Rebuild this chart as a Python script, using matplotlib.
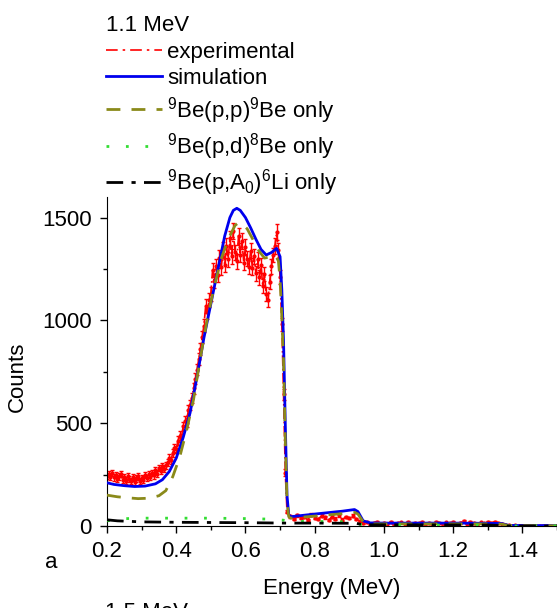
import numpy as np
import matplotlib
matplotlib.use("Agg")
import matplotlib.pyplot as plt
from matplotlib.lines import Line2D
from matplotlib.ticker import MultipleLocator

plt.rcParams['font.family'] = ['Liberation Sans', 'DejaVu Sans']
plt.rcParams['mathtext.fontset'] = 'custom'
plt.rcParams['mathtext.rm'] = 'Liberation Sans'
plt.rcParams['mathtext.it'] = 'Liberation Sans'

# experimental spectrum (counts), channel grid 5 keV up to 0.72 MeV, 10 keV beyond
exp_energy_lo = np.round(np.arange(0.200, 0.7201, 0.005), 3)
exp_counts_lo = [
    244, 252, 238, 258, 236, 247, 229, 241, 252, 226,
    238, 221, 244, 230, 218, 236, 212, 231, 241, 219,
    233, 226, 247, 232, 251, 239, 258, 246, 270, 255,
    282, 268, 290, 279, 296, 310, 332, 320, 356, 380,
    372, 415, 440, 428, 485, 510, 502, 565, 590, 622,
    670, 715, 760, 812, 860, 920, 975, 1070, 1040, 1098,
    1130, 1245, 1190, 1263, 1222, 1305, 1258, 1345, 1269, 1362,
    1297, 1399, 1312, 1436, 1331, 1288, 1412, 1320, 1386, 1281,
    1358, 1300, 1261, 1339, 1255, 1312, 1228, 1296, 1209, 1268,
    1166, 1224, 1127, 1099, 1188, 1262, 1318, 1362, 1430, 1340,
    1210, 980, 640, 260, 70,
]
exp_energy_hi = np.round(np.arange(0.73, 1.5001, 0.01), 2)
exp_counts_hi = [
    48, 35, 52, 38, 45, 30, 55, 40, 33, 50,
    42, 28, 46, 36, 52, 31, 44, 38, 49, 35,
    22, 14, 18, 10, 15, 21, 9, 16, 12, 19,
    8, 14, 17, 11, 20, 9, 15, 13, 18, 10,
    16, 12, 21, 14, 9, 17, 13, 20, 11, 16,
    22, 12, 18, 14, 10, 17, 13, 19, 15, 21,
    14, 11, 6, 3, 2, 3, 1, 2, 1, 2,
    1, 2, 1, 2, 1, 2, 1, 2,
]

# full simulation
sim_energy = [0.20, 0.22, 0.25, 0.28, 0.31, 0.34, 0.36, 0.38, 0.40, 0.42,
              0.44, 0.46, 0.48, 0.50, 0.52, 0.54, 0.555, 0.565, 0.575, 0.585,
              0.60, 0.615, 0.63, 0.645, 0.66, 0.675, 0.69, 0.70, 0.705, 0.71,
              0.715, 0.72, 0.725, 0.73, 0.80, 0.88, 0.915, 0.925, 0.94, 0.96,
              1.00, 1.10, 1.20, 1.30, 1.34, 1.36, 1.40, 1.50]
sim_counts = [210, 202, 196, 192, 194, 205, 225, 265, 330, 430,
              550, 725, 915, 1080, 1245, 1410, 1500, 1535, 1545, 1535,
              1500, 1450, 1395, 1345, 1318, 1330, 1350, 1310, 1150, 900,
              500, 150, 55, 45, 58, 72, 80, 70, 25, 15,
              14, 14, 14, 13, 12, 3, 2, 2]

# 9Be(p,p)9Be only
pp_energy = [0.20, 0.23, 0.26, 0.29, 0.32, 0.35, 0.37, 0.39, 0.41, 0.43,
             0.45, 0.47, 0.49, 0.51, 0.53, 0.55, 0.57, 0.58, 0.59, 0.605,
             0.62, 0.64, 0.655, 0.67, 0.685, 0.695, 0.70, 0.705, 0.71, 0.715,
             0.72, 0.725, 0.73, 0.80, 0.88, 0.915, 0.925, 0.94, 0.96, 1.10,
             1.30, 1.34, 1.36, 1.50]
pp_counts = [150, 142, 137, 133, 135, 147, 172, 240, 335, 465,
             615, 820, 1010, 1165, 1300, 1395, 1462, 1475, 1470, 1445,
             1398, 1335, 1303, 1308, 1318, 1290, 1200, 1020, 800, 420,
             120, 45, 38, 48, 60, 66, 58, 20, 10, 10,
             10, 9, 2, 1]

# 9Be(p,d)8Be only
pd_energy = [0.20, 0.24, 0.30, 0.40, 0.50, 0.60, 0.68, 0.71, 0.73, 0.80,
             0.90, 0.93, 1.00, 1.30, 1.36, 1.50]
pd_counts = [25, 35, 38, 38, 38, 36, 33, 28, 22, 22,
             20, 8, 5, 4, 0, 0]

# 9Be(p,a0)6Li only
pa_energy = [0.20, 0.23, 0.30, 0.40, 0.60, 0.72, 0.80, 0.92, 0.94, 1.30,
             1.36, 1.50]
pa_counts = [30, 25, 20, 18, 16, 14, 14, 13, 6, 5,
             0, 0]

exp_energy = np.concatenate([exp_energy_lo, exp_energy_hi])
exp_counts = np.array(exp_counts_lo + exp_counts_hi, dtype=float)
exp_err = np.sqrt(exp_counts)

fig = plt.figure(figsize=(5.57, 6.08), dpi=100)
ax = fig.add_axes([0.1921, 0.1349, 0.8079, 0.5411])

ax.errorbar(exp_energy, exp_counts, yerr=exp_err, fmt='-.', color='red',
            lw=1.2, marker='o', ms=2, elinewidth=1, capsize=1.5, zorder=2)
l_sim, = ax.plot(sim_energy, sim_counts, color='#0000ee', lw=2,
                 label='simulation', zorder=3)
l_pp, = ax.plot(pp_energy, pp_counts, color='#8a8a1a', lw=2, ls=(0, (5, 4)),
                label='$^{9}$Be(p,p)$^{9}$Be only', zorder=4)
l_pd, = ax.plot(pd_energy, pd_counts, color='#33dd33', lw=2, ls=(0, (1, 6)),
                label='$^{9}$Be(p,d)$^{8}$Be only', zorder=5)
l_pa, = ax.plot(pa_energy, pa_counts, color='black', lw=2, ls=(0, (6, 3, 1.5, 3)),
                label='$^{9}$Be(p,$\\mathrm{A_0}$)$^{6}$Li only', zorder=5)

ax.set_xlim(0.2, 1.5)
ax.set_ylim(0, 1600)
ax.xaxis.set_minor_locator(MultipleLocator(0.1))
ax.yaxis.set_major_locator(MultipleLocator(500))
ax.yaxis.set_minor_locator(MultipleLocator(250))
ax.set_xticks([0.2, 0.4, 0.6, 0.8, 1.0, 1.2, 1.4])
ax.set_xticklabels(['0.2', '0.4', '0.6', '0.8', '1.0', '1.2', '1.4'])
ax.tick_params(which='major', direction='out', length=5, width=1, labelsize=16, pad=6)
ax.tick_params(which='minor', direction='out', length=3, width=1)

ax.spines['top'].set_visible(False)
ax.spines['right'].set_visible(False)

ax.set_xlabel('Energy (MeV)', fontsize=16)
ax.xaxis.set_label_coords(0.5, -0.158)
ax.set_ylabel('Counts', fontsize=16)
ax.yaxis.set_label_coords(-0.176, 0.453)

fig.text(51 / 557, 1 - 563 / 608, 'a', fontsize=16, ha='center', va='center')
fig.text(105 / 557, 1 - 602 / 608, '1.5 MeV', fontsize=16, ha='left', va='top')

exp_handle = Line2D([], [], color='red', lw=1.2, ls=(0, (7, 3, 1.5, 3)))
handles = [exp_handle, l_sim, l_pp, l_pd, l_pa]
labels = ['experimental', l_sim.get_label(), l_pp.get_label(),
          l_pd.get_label(), l_pa.get_label()]
fig.legend(handles, labels, loc='upper left',
           bbox_to_anchor=(106 / 557, 1 - 15 / 608),
           title='1.1 MeV', title_fontsize=16, fontsize=16, frameon=False,
           handlelength=2.5, handletextpad=0.25, labelspacing=0.25,
           borderpad=0, borderaxespad=0, alignment='left')

fig.savefig('out.png', dpi=100)
